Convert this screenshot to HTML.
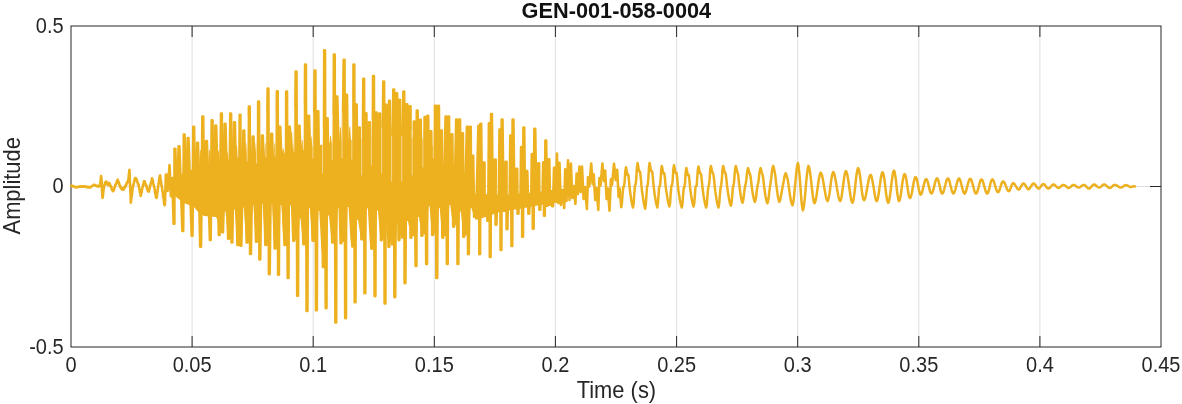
<!DOCTYPE html>
<html>
<head>
<meta charset="utf-8">
<title>GEN-001-058-0004</title>
<style>
html, body { margin: 0; padding: 0; background: #ffffff; }
body { width: 1182px; height: 404px; overflow: hidden; }
svg { display: block; font-family: "Liberation Sans", sans-serif; }
.txt { opacity: 0.999; }
.tick text { font-size: 20px; fill: #262626; }
.lab { font-size: 22px; fill: #262626; }
.ttl { font-size: 22px; font-weight: bold; fill: #111111; }
</style>
</head>
<body>
<svg width="1182" height="404" viewBox="0 0 1182 404">
<rect x="0" y="0" width="1182" height="404" fill="#ffffff"/>
<g stroke="#dfdfdf" stroke-width="1" fill="none"><line x1="192.1" y1="26.0" x2="192.1" y2="347.0"/><line x1="313.2" y1="26.0" x2="313.2" y2="347.0"/><line x1="434.3" y1="26.0" x2="434.3" y2="347.0"/><line x1="555.4" y1="26.0" x2="555.4" y2="347.0"/><line x1="676.6" y1="26.0" x2="676.6" y2="347.0"/><line x1="797.7" y1="26.0" x2="797.7" y2="347.0"/><line x1="918.8" y1="26.0" x2="918.8" y2="347.0"/><line x1="1039.9" y1="26.0" x2="1039.9" y2="347.0"/><line x1="71.0" y1="186.5" x2="1161.0" y2="186.5"/></g>
<rect x="71.0" y="26.0" width="1090.0" height="321.0" fill="none" stroke="#262626" stroke-width="1"/>
<g stroke="#262626" stroke-width="1" fill="none"><line x1="192.1" y1="347.0" x2="192.1" y2="336.0"/><line x1="192.1" y1="26.0" x2="192.1" y2="37.0"/><line x1="313.2" y1="347.0" x2="313.2" y2="336.0"/><line x1="313.2" y1="26.0" x2="313.2" y2="37.0"/><line x1="434.3" y1="347.0" x2="434.3" y2="336.0"/><line x1="434.3" y1="26.0" x2="434.3" y2="37.0"/><line x1="555.4" y1="347.0" x2="555.4" y2="336.0"/><line x1="555.4" y1="26.0" x2="555.4" y2="37.0"/><line x1="676.6" y1="347.0" x2="676.6" y2="336.0"/><line x1="676.6" y1="26.0" x2="676.6" y2="37.0"/><line x1="797.7" y1="347.0" x2="797.7" y2="336.0"/><line x1="797.7" y1="26.0" x2="797.7" y2="37.0"/><line x1="918.8" y1="347.0" x2="918.8" y2="336.0"/><line x1="918.8" y1="26.0" x2="918.8" y2="37.0"/><line x1="1039.9" y1="347.0" x2="1039.9" y2="336.0"/><line x1="1039.9" y1="26.0" x2="1039.9" y2="37.0"/><line x1="71.0" y1="186.5" x2="82.0" y2="186.5"/><line x1="1161.0" y1="186.5" x2="1150.0" y2="186.5"/></g>
<path d="M170.0,186.0 L176.0,179.0 L184.0,172.0 L200.0,167.0 L219.0,162.0 L250.0,157.0 L279.0,153.0 L300.0,149.0 L320.0,145.0 L340.0,141.0 L360.0,139.0 L400.0,137.0 L425.0,139.0 L435.0,148.0 L440.0,170.0 L442.0,193.0 L552.0,196.0 L552.0,201.0 L545.0,204.0 L530.0,207.0 L500.0,212.0 L478.4,219.5 L475.4,219.5 L473.2,213.5 L471.3,207.9 L470.4,207.9 L469.4,235.4 L467.4,235.4 L464.4,235.4 L462.7,229.4 L460.8,211.6 L459.9,211.6 L458.9,225.3 L456.9,225.3 L453.9,225.3 L452.1,219.3 L450.2,205.0 L449.3,205.0 L448.3,236.3 L446.3,236.3 L443.3,236.3 L441.6,230.3 L439.7,207.9 L438.8,207.9 L437.8,233.7 L435.8,233.7 L432.8,233.7 L431.4,227.7 L429.5,206.1 L428.6,206.1 L427.6,234.5 L425.6,234.5 L422.6,234.5 L420.8,228.5 L418.9,216.9 L418.0,216.9 L417.0,236.3 L415.0,236.3 L412.0,236.3 L409.8,230.3 L407.9,221.1 L407.0,221.1 L406.0,238.8 L404.0,238.8 L401.0,238.8 L399.6,232.8 L397.7,223.0 L396.8,223.0 L395.8,245.5 L393.8,245.5 L390.8,245.5 L389.8,239.5 L387.9,219.2 L387.0,219.2 L386.0,238.8 L384.0,238.8 L381.0,238.8 L379.8,232.8 L377.9,210.6 L377.0,210.6 L376.0,247.3 L374.0,247.3 L371.0,247.3 L369.7,241.3 L367.8,208.3 L366.9,208.3 L365.9,238.0 L363.9,238.0 L360.9,238.0 L359.9,232.0 L358.0,219.8 L357.1,219.8 L356.1,245.1 L354.1,245.1 L351.1,245.1 L350.4,239.1 L348.5,207.0 L347.6,207.0 L346.6,242.0 L344.6,242.0 L341.6,242.0 L340.6,236.0 L338.7,208.0 L337.8,208.0 L336.8,241.2 L334.8,241.2 L331.8,241.2 L330.9,235.2 L329.0,215.6 L328.1,215.6 L327.1,253.5 L325.1,253.5 L322.1,253.5 L321.2,247.5 L319.3,211.0 L318.4,211.0 L317.4,239.5 L315.4,239.5 L312.4,239.5 L311.8,233.5 L309.9,208.2 L309.0,208.2 L308.0,242.9 L306.0,242.9 L303.0,242.9 L302.4,236.9 L300.5,218.4 L299.6,218.4 L298.6,239.5 L296.6,239.5 L293.6,239.5 L292.9,233.5 L291.0,205.6 L290.1,205.6 L289.1,243.7 L287.1,243.7 L284.1,243.7 L283.3,237.7 L281.4,204.9 L280.5,204.9 L279.5,247.1 L277.5,247.1 L274.5,247.1 L274.1,241.1 L272.2,204.1 L271.3,204.1 L270.3,243.7 L268.3,243.7 L265.3,243.7 L264.6,237.7 L262.7,204.0 L261.8,204.0 L260.8,240.3 L258.8,240.3 L255.8,240.3 L255.3,234.3 L253.4,205.0 L252.5,205.0 L251.5,241.2 L249.5,241.2 L246.5,241.2 L245.7,235.2 L243.8,207.5 L242.9,207.5 L241.9,243.7 L239.9,243.7 L236.9,243.7 L236.7,237.7 L234.8,209.6 L233.9,209.6 L232.9,237.5 L230.9,237.5 L227.9,237.5 L227.4,231.5 L225.5,211.5 L224.6,211.5 L223.6,233.5 L216.0,217.0 L204.0,216.0 L199.0,213.0 L194.0,207.0 L184.0,203.0 L176.0,197.0 L169.0,187.0Z" fill="#EDB120" stroke="none"/>
<path d="M198.8,169.9 L200.0,150.1 L200.7,150.1 L201.8,169.9ZM208.1,167.5 L209.2,150.1 L209.9,150.1 L211.1,167.5ZM217.0,165.1 L218.2,150.4 L218.8,150.4 L220.0,165.1ZM225.9,163.6 L227.1,152.6 L227.8,152.6 L228.9,163.6ZM235.2,162.1 L236.3,145.0 L237.0,145.0 L238.2,162.1ZM244.5,160.6 L245.7,143.3 L246.3,143.3 L247.5,160.6ZM254.6,159.2 L255.8,142.4 L256.5,142.4 L257.6,159.2ZM263.9,157.9 L265.0,143.3 L265.8,143.3 L266.9,157.9ZM273.3,156.6 L274.4,143.3 L275.2,143.3 L276.3,156.6ZM281.7,155.2 L282.8,148.4 L283.6,148.4 L284.7,155.2ZM290.2,153.6 L291.3,131.4 L292.1,131.4 L293.2,153.6ZM292.7,153.1 L293.8,144.2 L294.6,144.2 L295.7,153.1ZM300.7,151.6 L301.8,139.9 L302.6,139.9 L303.7,151.6ZM309.6,149.8 L310.8,136.4 L311.5,136.4 L312.6,149.8ZM318.9,147.9 L320.0,146.7 L320.8,146.7 L321.9,147.9ZM329.1,145.9 L330.2,135.7 L331.0,135.7 L332.1,145.9ZM338.9,144.0 L340.0,127.2 L340.8,127.2 L341.9,144.0ZM348.2,143.0 L349.3,126.4 L350.1,126.4 L351.2,143.0Z" fill="#EDB120" stroke="none"/>
<path d="M71.4,185.8 L71.9,185.6 L72.3,186.1 L72.8,186.1 L73.2,186.5 L73.7,186.2 L74.1,186.7 L74.6,186.7 L75.0,187.2 L75.5,186.9 L75.9,187.3 L76.4,187.2 L76.8,187.5 L77.3,187.0 L77.7,187.1 L78.2,186.7 L78.6,187.0 L79.1,186.6 L79.5,186.7 L80.0,186.4 L80.4,186.7 L80.9,186.4 L81.3,186.6 L81.8,186.3 L82.2,186.7 L82.7,186.4 L83.1,186.7 L83.6,186.3 L84.0,186.6 L84.5,186.4 L84.9,186.7 L85.4,186.4 L85.8,186.8 L86.3,186.7 L86.7,187.1 L87.2,186.8 L87.6,187.1 L88.1,186.9 L88.5,187.4 L89.0,187.1 L89.4,187.4 L89.9,187.2 L90.3,187.4 L90.8,186.8 L91.2,186.6 L91.7,186.0 L92.1,186.1 L92.6,185.6 L93.0,185.6 L93.5,184.9 L93.9,185.0 L94.4,184.8 L94.8,185.3 L95.3,185.0 L95.7,185.6 L96.2,185.6 L96.6,186.1 L97.1,185.8 L97.5,186.1 L98.0,186.1 L98.4,186.6 L98.9,186.3 L99.3,186.3 L99.8,184.5 L100.2,185.1 L100.7,180.0 L101.1,176.0 L101.6,180.4 L102.0,190.5 L102.5,197.9 L102.9,196.0 L103.4,190.7 L103.8,188.4 L104.3,185.2 L104.7,185.0 L105.2,182.3 L105.6,182.6 L106.1,181.5 L106.5,183.4 L107.0,182.6 L107.4,184.6 L107.9,183.8 L108.3,184.8 L108.8,182.8 L109.2,183.3 L109.7,183.5 L110.1,186.0 L110.6,185.5 L111.0,187.2 L111.5,187.2 L111.9,189.8 L112.4,189.6 L112.8,191.3 L113.3,190.3 L113.7,190.7 L114.2,188.5 L114.6,188.0 L115.1,185.3 L115.5,185.5 L116.0,183.7 L116.4,183.6 L116.9,180.9 L117.3,181.1 L117.8,179.7 L118.2,182.1 L118.7,181.8 L119.1,184.1 L119.6,184.7 L120.0,187.0 L120.5,186.4 L120.9,188.2 L121.4,187.7 L121.8,189.4 L122.3,188.2 L122.7,189.0 L123.2,188.0 L123.6,189.8 L124.1,188.1 L124.5,188.1 L125.0,186.1 L125.4,186.9 L125.9,185.1 L126.3,185.0 L126.8,182.5 L127.2,182.9 L127.7,181.3 L128.1,181.4 L128.6,177.5 L129.0,173.6 L129.5,169.7 L129.9,181.7 L130.4,191.0 L130.8,202.7 L131.3,198.6 L131.7,196.7 L132.2,191.9 L132.6,189.2 L133.1,185.1 L133.5,185.0 L134.0,182.1 L134.4,181.0 L134.9,178.1 L135.3,178.1 L135.8,178.1 L136.2,179.7 L136.7,179.3 L137.1,181.8 L137.6,182.3 L138.0,184.4 L138.5,184.1 L138.9,187.1 L139.4,188.7 L139.8,192.1 L140.3,192.7 L140.7,196.0 L141.2,193.3 L141.6,192.6 L142.1,189.0 L142.5,187.8 L143.0,185.0 L143.4,184.6 L143.9,181.3 L144.3,181.3 L144.8,181.4 L145.2,184.1 L145.7,184.1 L146.1,185.9 L146.6,185.8 L147.0,188.7 L147.5,189.2 L147.9,191.2 L148.4,191.0 L148.8,191.7 L149.3,189.3 L149.7,188.5 L150.2,185.1 L150.6,184.5 L151.1,182.2 L151.5,181.7 L152.0,178.3 L152.4,179.3 L152.9,180.7 L153.3,184.2 L153.8,184.9 L154.2,187.7 L154.7,189.2 L155.1,193.1 L155.6,194.3 L156.0,197.3 L156.5,197.9 L156.9,196.3 L157.4,192.1 L157.8,189.6 L158.3,185.0 L158.7,183.3 L159.2,179.2 L159.6,176.8 L160.1,175.3 L160.5,179.4 L161.0,181.5 L161.4,185.3 L161.9,186.4 L162.3,190.3 L162.8,192.8 L163.2,197.3 L163.7,198.9 L164.1,202.9 L164.6,205.3 L165.0,202.5 L165.5,187.5 L165.9,174.6 L166.4,174.6 L166.8,181.3 L167.3,185.3 L167.7,191.0 L168.2,183.3 L168.6,178.4 L169.1,170.9 L169.5,165.1 L170.0,174.3 L170.4,186.4 L170.9,196.3 L171.3,195.6 L171.8,186.4 L172.2,180.0 L172.3,178.0 L173.6,223.8 L174.4,223.8 L174.5,148.7 L175.3,148.7 L176.5,194.7 L177.3,194.7 L178.6,146.2 L179.4,146.2 L182.4,231.0 L183.2,231.0 L183.8,134.6 L184.6,134.6 L185.7,200.9 L186.5,200.9 L187.7,138.0 L188.5,138.0 L191.7,235.7 L192.5,235.7 L193.3,126.7 L194.1,126.7 L195.2,206.0 L196.0,206.0 L197.2,142.7 L198.0,142.7 L200.2,246.7 L201.0,246.7 L202.4,116.5 L203.2,116.5 L204.2,213.1 L205.1,213.1 L206.1,141.0 L206.9,141.0 L209.9,240.0 L210.7,240.0 L211.7,120.2 L212.5,120.2 L213.5,213.8 L214.3,213.8 L215.4,125.5 L216.2,125.5 L218.8,234.9 L219.6,234.9 L221.0,113.6 L221.8,113.6 L222.2,232.3 L223.0,232.3 L224.7,123.8 L225.5,123.8 L228.1,238.8 L228.9,238.8 L230.3,113.6 L231.1,113.6 L231.5,242.5 L232.3,242.5 L234.1,122.4 L234.9,122.4 L237.4,245.0 L238.2,245.0 L239.6,114.8 L240.4,114.8 L240.5,245.8 L241.3,245.8 L243.4,130.5 L244.2,130.5 L246.7,242.5 L247.5,242.5 L248.9,106.5 L249.7,106.5 L250.1,254.0 L250.9,254.0 L252.7,136.5 L253.5,136.5 L256.0,241.6 L256.8,241.6 L258.2,101.6 L259.0,101.6 L259.4,259.4 L260.2,259.4 L262.0,135.5 L262.8,135.5 L265.4,245.0 L266.2,245.0 L267.6,88.5 L268.4,88.5 L268.9,274.1 L269.7,274.1 L271.3,133.8 L272.1,133.8 L274.7,248.4 L275.5,248.4 L276.9,91.4 L277.7,91.4 L278.1,274.8 L278.9,274.8 L279.4,126.7 L280.2,126.7 L284.5,245.0 L285.3,245.0 L286.2,91.6 L287.0,91.6 L287.7,278.0 L288.5,278.0 L289.0,126.7 L289.8,126.7 L293.3,240.8 L294.1,240.8 L295.7,71.5 L296.5,71.5 L297.2,295.8 L298.0,295.8 L298.7,125.8 L299.5,125.8 L303.4,244.2 L304.2,244.2 L305.1,64.6 L305.9,64.6 L306.6,311.0 L307.4,311.0 L308.2,115.7 L309.0,115.7 L312.6,240.8 L313.4,240.8 L314.6,70.5 L315.4,70.5 L316.0,310.2 L316.8,310.2 L317.5,111.4 L318.3,111.4 L319.3,208.8 L320.1,208.8 L321.1,147.7 L321.9,147.7 L322.9,267.0 L323.7,267.0 L324.2,50.4 L325.0,50.4 L325.7,308.1 L326.5,308.1 L326.8,118.2 L327.6,118.2 L328.6,211.8 L329.4,211.8 L330.4,145.8 L331.2,145.8 L332.2,242.5 L333.0,242.5 L333.9,54.6 L334.7,54.6 L335.4,322.5 L336.2,322.5 L336.5,96.5 L337.3,96.5 L340.6,243.3 L341.4,243.3 L343.7,59.7 L344.5,59.7 L345.2,318.1 L346.0,318.1 L346.2,94.7 L347.0,94.7 L348.2,205.2 L349.0,205.2 L350.3,142.9 L351.1,142.9 L352.3,246.4 L353.1,246.4 L353.5,64.6 L354.3,64.6 L354.7,302.2 L355.5,302.2 L355.9,104.5 L356.7,104.5 L357.4,217.9 L358.2,217.9 L358.9,127.5 L359.7,127.5 L361.4,239.3 L362.2,239.3 L363.3,78.7 L364.1,78.7 L364.5,293.3 L365.3,293.3 L365.6,113.2 L366.4,113.2 L367.4,205.2 L368.1,205.2 L369.1,122.4 L369.9,122.4 L371.3,248.6 L372.1,248.6 L373.1,76.1 L373.9,76.1 L374.6,296.1 L375.4,296.1 L375.8,112.6 L376.6,112.6 L377.5,208.5 L378.3,208.5 L379.2,113.5 L380.0,113.5 L380.9,240.1 L381.7,240.1 L383.3,81.5 L384.1,81.5 L384.6,303.4 L385.4,303.4 L385.6,104.7 L386.4,104.7 L388.5,246.8 L389.3,246.8 L389.0,100.8 L389.8,100.8 L391.1,218.1 L391.9,218.1 L393.3,89.5 L394.1,89.5 L394.4,297.1 L395.2,297.1 L396.3,93.4 L397.1,93.4 L398.6,240.1 L399.4,240.1 L399.3,99.7 L400.1,99.7 L401.4,219.1 L402.1,219.1 L403.4,91.6 L404.2,91.6 L404.6,283.1 L405.4,283.1 L406.5,104.2 L407.3,104.2 L408.1,217.7 L408.9,217.7 L409.7,106.4 L410.5,106.4 L410.5,237.6 L411.3,237.6 L413.9,121.6 L414.7,121.6 L415.6,266.0 L416.4,266.0 L416.8,110.6 L417.6,110.6 L418.4,212.9 L419.2,212.9 L420.0,119.9 L420.8,119.9 L421.5,235.8 L422.3,235.8 L424.6,117.0 L425.4,117.0 L426.2,264.0 L427.0,264.0 L427.4,115.7 L428.2,115.7 L429.0,203.2 L429.8,203.2 L430.5,131.4 L431.3,131.4 L432.2,235.0 L433.0,235.0 L435.0,105.8 L435.8,105.8 L436.4,278.0 L437.2,278.0 L438.1,105.8 L438.9,105.8 L439.6,204.7 L440.3,204.7 L441.0,130.5 L441.8,130.5 L442.3,237.6 L443.1,237.6 L445.6,116.5 L446.4,116.5 L446.9,264.0 L447.7,264.0 L448.2,116.5 L449.0,116.5 L449.9,202.6 L450.6,202.6 L451.5,134.2 L452.3,134.2 L453.2,226.6 L454.0,226.6 L456.2,119.5 L457.0,119.5 L457.5,264.0 L458.3,264.0 L459.2,119.5 L460.0,119.5 L460.7,208.8 L461.4,208.8 L462.1,133.4 L462.9,133.4 L463.3,236.7 L464.1,236.7 L466.9,126.7 L467.7,126.7 L468.0,254.1 L468.8,254.1 L469.9,126.7 L470.7,126.7 L471.2,204.7 L471.9,204.7 L472.4,155.7 L473.2,155.7 L474.1,216.8 L474.9,216.8 L476.6,200.0 L478.4,125.8 L479.2,125.8 L479.3,254.1 L480.1,254.1 L480.4,123.8 L481.2,123.8 L482.0,210.8 L482.8,210.8 L483.7,162.5 L484.5,162.5 L484.6,212.8 L485.4,212.8 L485.9,198.2 L486.7,198.2 L487.4,220.6 L488.2,220.6 L488.9,123.2 L489.7,123.2 L489.8,257.0 L490.6,257.0 L491.1,114.0 L491.9,114.0 L492.8,212.8 L493.6,212.8 L494.9,159.6 L495.7,159.6 L495.6,224.8 L496.4,224.8 L497.2,197.0 L498.7,210.0 L499.5,129.5 L500.3,129.5 L500.6,249.9 L501.4,249.9 L501.7,119.5 L502.5,119.5 L503.6,210.8 L504.4,210.8 L505.7,161.7 L506.5,161.7 L506.6,229.1 L507.4,229.1 L508.0,196.0 L509.6,208.0 L510.3,135.5 L511.1,135.5 L511.5,246.0 L512.3,246.0 L512.6,119.5 L513.4,119.5 L514.5,206.8 L515.3,206.8 L516.4,168.8 L517.2,168.8 L517.6,213.8 L518.4,213.8 L519.0,195.0 L520.4,206.0 L521.1,147.0 L521.9,147.0 L522.2,236.7 L523.0,236.7 L523.4,127.5 L524.2,127.5 L525.1,204.8 L525.9,204.8 L526.5,171.0 L527.3,171.0 L528.4,213.8 L529.2,213.8 L530.0,194.0 L531.2,204.0 L531.8,154.0 L532.6,154.0 L532.8,228.8 L533.6,228.8 L534.4,128.7 L535.2,128.7 L536.4,202.8 L537.2,202.8 L538.3,163.2 L539.1,163.2 L539.4,209.8 L540.2,209.8 L541.1,193.0 L542.4,203.0 L543.2,162.2 L544.0,162.2 L544.0,215.8 L544.8,215.8 L545.4,140.5 L546.2,140.5 L546.9,205.8 L547.7,205.8 L548.5,159.2 L549.3,159.2 L550.0,204.8 L550.8,204.8 L551.2,191.2 L552.0,191.2 L552.2,206.3 L553.0,206.3 L554.0,167.8 L554.8,167.8 L555.1,201.8 L555.9,201.8 L556.9,153.5 L558.2,203.0 L559.5,162.8 L560.8,205.0 L562.3,190.0 L564.2,208.0 L565.2,169.2 L566.5,201.0 L568.0,160.3 L569.5,200.0 L570.9,163.5 L572.3,198.0 L573.7,186.0 L575.4,204.0 L576.6,173.6 L577.9,194.0 L579.4,166.6 L580.7,192.0 L582.0,166.6 L583.6,199.0 L585.0,187.0 L586.9,209.0 L588.0,177.4 L589.3,186.5 L591.2,163.5 L592.6,184.0 L593.7,174.3 L595.2,200.0 L596.5,188.0 L598.3,210.0 L599.4,178.0 L600.6,185.5 L602.4,163.5 L603.9,181.0 L605.2,170.5 L606.6,199.0 L607.8,188.5 L609.5,210.7 L610.9,179.3 L612.0,185.0 L614.0,163.7 L615.7,180.0 L617.2,169.8 L618.6,197.0 L619.7,188.5 L621.2,207.0" fill="none" stroke="#EDB120" stroke-width="2.6" stroke-linejoin="round" stroke-linecap="round"/>
<path d="M621.2,207.0 L621.2,207.0 L621.9,203.2 L622.6,194.0 L623.3,186.8 L623.9,186.9 L624.6,181.9 L625.3,171.1 L626.0,167.2 L626.6,170.4 L627.3,174.8 L627.9,174.1 L628.5,175.8 L629.2,183.1 L629.8,189.6 L630.5,194.4 L631.1,198.7 L631.7,202.4 L632.4,205.4 L633.0,207.5 L633.7,203.3 L634.3,193.4 L635.0,185.4 L635.6,184.6 L636.3,178.8 L636.9,167.4 L637.6,163.0 L638.2,166.0 L638.9,171.0 L639.5,171.1 L640.1,172.0 L640.8,177.6 L641.4,185.2 L642.0,190.8 L642.7,195.6 L643.3,199.9 L643.9,203.6 L644.6,206.6 L645.2,208.7 L645.8,204.4 L646.5,194.3 L647.1,186.1 L647.7,185.1 L648.3,179.1 L649.0,167.5 L649.6,163.0 L650.2,166.0 L650.9,170.8 L651.5,170.8 L652.2,171.6 L652.8,177.1 L653.5,184.6 L654.1,190.1 L654.7,194.7 L655.4,198.9 L656.0,202.5 L656.7,205.4 L657.3,207.5 L657.9,203.6 L658.6,194.1 L659.2,186.6 L659.9,186.3 L660.5,181.0 L661.2,169.9 L661.8,165.9 L662.4,168.6 L663.1,173.2 L663.7,172.9 L664.3,173.3 L665.0,178.5 L665.6,185.6 L666.2,190.6 L666.9,194.9 L667.5,198.8 L668.1,202.0 L668.8,204.7 L669.4,206.5 L670.1,202.7 L670.7,193.3 L671.4,185.8 L672.0,185.4 L672.7,180.1 L673.3,169.1 L674.0,165.2 L674.6,168.0 L675.3,172.6 L676.0,172.4 L676.6,173.0 L677.2,178.4 L677.9,185.7 L678.5,191.0 L679.2,195.5 L679.8,199.5 L680.5,203.0 L681.1,205.6 L681.8,207.5 L682.5,204.0 L683.1,194.8 L683.8,187.6 L684.4,187.5 L685.1,182.4 L685.7,171.8 L686.4,168.1 L687.0,170.6 L687.6,174.9 L688.2,174.5 L688.8,175.0 L689.4,179.9 L690.0,186.7 L690.6,191.6 L691.2,195.7 L691.8,199.3 L692.4,202.5 L693.0,204.9 L693.6,206.5 L694.2,203.6 L694.8,197.1 L695.4,187.9 L696.0,186.1 L696.7,185.4 L697.3,177.0 L697.9,169.4 L698.5,166.4 L699.1,168.9 L699.8,173.1 L700.4,173.3 L701.1,174.4 L701.7,179.6 L702.4,186.4 L703.0,191.6 L703.6,196.0 L704.3,199.9 L704.9,203.3 L705.6,205.8 L706.2,207.5 L706.9,204.0 L707.5,195.3 L708.2,187.6 L708.9,185.4 L709.6,179.4 L710.2,169.5 L710.9,165.9 L711.5,168.2 L712.2,172.2 L712.8,172.9 L713.4,174.4 L714.1,179.5 L714.7,186.2 L715.3,191.4 L716.0,195.9 L716.6,199.9 L717.2,203.3 L717.9,205.9 L718.5,207.5 L719.2,204.1 L719.8,195.8 L720.5,188.1 L721.2,185.0 L721.9,178.8 L722.5,169.4 L723.2,165.9 L723.8,168.0 L724.5,171.7 L725.1,172.6 L725.8,174.3 L726.4,179.2 L727.0,185.4 L727.7,190.4 L728.3,194.8 L729.0,198.6 L729.6,201.9 L730.3,204.3 L730.9,205.8 L731.5,203.2 L732.1,197.4 L732.7,189.3 L733.3,185.7 L734.0,182.7 L734.6,175.1 L735.2,168.6 L735.8,165.9 L736.4,168.0 L737.0,171.3 L737.6,172.4 L738.2,175.1 L738.8,181.0 L739.5,186.6 L740.1,191.2 L740.7,195.3 L741.3,198.8 L741.9,201.3 L742.5,202.8 L743.1,200.9 L743.7,197.1 L744.4,190.6 L745.0,186.6 L745.6,184.0 L746.2,180.9 L746.9,174.3 L747.5,170.0 L748.1,168.1 L748.7,169.9 L749.3,172.8 L750.0,174.0 L750.6,176.7 L751.2,182.0 L751.8,187.1 L752.4,191.4 L753.0,195.1 L753.7,198.3 L754.3,200.6 L754.9,201.9 L755.5,200.2 L756.2,196.5 L756.8,190.6 L757.4,186.5 L758.1,183.3 L758.7,179.9 L759.3,173.8 L760.0,169.9 L760.6,168.1 L761.2,169.8 L761.8,172.6 L762.5,174.4 L763.1,177.5 L763.7,182.8 L764.3,187.9 L764.9,192.4 L765.5,196.3 L766.2,199.6 L766.8,202.0 L767.4,203.3 L768.0,201.4 L768.7,197.6 L769.3,191.7 L770.0,186.7 L770.6,182.3 L771.3,177.9 L771.9,171.8 L772.6,167.8 L773.2,165.9 L773.8,167.7 L774.4,170.6 L775.0,173.4 L775.6,177.9 L776.2,183.8 L776.9,189.0 L777.5,193.7 L778.1,197.6 L778.7,200.4 L779.3,201.9 L779.9,200.7 L780.6,198.4 L781.2,194.6 L781.9,190.7 L782.5,187.5 L783.1,184.3 L783.8,180.8 L784.4,176.8 L785.1,174.4 L785.7,173.2 L786.3,174.5 L786.9,176.7 L787.6,179.2 L788.2,182.5 L788.8,186.9 L789.4,191.3 L790.0,195.4 L790.6,199.1 L791.3,202.1 L791.9,204.2 L792.5,205.3 L793.2,203.0 L793.9,198.1 L794.5,191.3 L795.2,184.1 L795.9,177.0 L796.5,170.3 L797.2,165.3 L797.9,163.0 L798.5,165.6 L799.1,170.8 L799.8,178.1 L800.4,186.7 L801.0,195.2 L801.6,202.6 L802.3,207.8 L802.9,210.4 L803.5,208.4 L804.1,204.4 L804.8,198.6 L805.4,191.8 L806.0,184.5 L806.6,177.7 L807.3,171.9 L807.9,167.9 L808.5,165.9 L809.1,167.3 L809.7,170.1 L810.3,174.2 L810.9,179.2 L811.5,184.6 L812.1,190.0 L812.7,195.0 L813.3,199.1 L813.9,201.9 L814.5,203.3 L815.1,202.2 L815.7,199.9 L816.4,196.5 L817.0,192.4 L817.6,188.0 L818.2,183.5 L818.8,179.4 L819.5,176.0 L820.1,173.7 L820.7,172.6 L821.3,173.5 L822.0,175.3 L822.6,177.9 L823.2,181.2 L823.8,184.9 L824.5,188.8 L825.1,192.5 L825.7,195.8 L826.3,198.4 L827.0,200.2 L827.6,201.1 L828.2,199.9 L828.8,197.3 L829.5,193.5 L830.1,189.0 L830.7,184.1 L831.3,179.6 L832.0,175.8 L832.6,173.2 L833.2,172.0 L833.8,172.8 L834.5,174.7 L835.1,177.4 L835.7,180.8 L836.4,184.6 L837.0,188.5 L837.7,192.3 L838.3,195.7 L838.9,198.4 L839.6,200.3 L840.2,201.1 L840.8,199.9 L841.5,197.2 L842.1,193.3 L842.7,188.6 L843.4,183.5 L844.0,178.8 L844.6,174.9 L845.3,172.2 L845.9,171.0 L846.5,171.9 L847.1,173.8 L847.7,176.8 L848.3,180.5 L848.9,184.7 L849.5,189.1 L850.1,193.3 L850.7,197.0 L851.3,200.0 L851.9,201.9 L852.5,202.8 L853.1,201.5 L853.7,198.4 L854.4,193.9 L855.0,188.4 L855.6,182.5 L856.2,177.0 L856.9,172.5 L857.5,169.4 L858.1,168.1 L858.8,169.3 L859.4,172.1 L860.1,176.3 L860.7,181.4 L861.4,186.9 L862.0,192.0 L862.7,196.2 L863.3,199.0 L864.0,200.2 L864.6,199.6 L865.2,198.0 L865.8,195.7 L866.4,192.7 L867.0,189.3 L867.6,185.7 L868.2,182.3 L868.8,179.3 L869.4,177.0 L870.0,175.4 L870.6,174.8 L871.2,175.5 L871.8,177.5 L872.4,180.4 L873.0,184.0 L873.7,187.9 L874.3,191.9 L874.9,195.5 L875.5,198.4 L876.1,200.4 L876.7,201.1 L877.4,200.1 L878.0,197.6 L878.7,193.8 L879.3,189.2 L880.0,184.2 L880.6,179.6 L881.3,175.8 L881.9,173.3 L882.6,172.3 L883.2,173.3 L883.8,176.0 L884.5,180.0 L885.1,184.9 L885.7,190.2 L886.3,195.1 L887.0,199.1 L887.6,201.8 L888.2,202.8 L888.8,201.8 L889.5,199.0 L890.1,194.7 L890.8,189.5 L891.4,183.9 L892.1,178.7 L892.7,174.4 L893.4,171.6 L894.0,170.6 L894.6,171.8 L895.2,175.1 L895.9,180.0 L896.5,185.8 L897.1,191.7 L897.8,196.6 L898.4,199.9 L899.0,201.1 L899.6,200.3 L900.2,197.9 L900.9,194.3 L901.5,189.9 L902.1,185.2 L902.7,180.8 L903.4,177.2 L904.0,174.8 L904.6,174.0 L905.3,174.9 L906.0,177.5 L906.6,181.4 L907.3,186.0 L908.0,190.6 L908.6,194.5 L909.3,197.1 L910.0,198.0 L910.6,197.4 L911.2,195.5 L911.9,192.8 L912.5,189.3 L913.1,185.7 L913.7,182.2 L914.4,179.5 L915.0,177.6 L915.6,177.0 L916.2,177.7 L916.9,179.6 L917.5,182.4 L918.2,185.8 L918.8,189.2 L919.4,192.0 L920.1,193.9 L920.7,194.6 L921.4,194.0 L922.1,192.3 L922.7,189.8 L923.4,186.8 L924.1,183.9 L924.8,181.4 L925.4,179.7 L926.1,179.1 L926.8,179.6 L927.5,181.2 L928.1,183.5 L928.8,186.3 L929.5,189.1 L930.1,191.4 L930.8,193.0 L931.5,193.5 L932.1,193.0 L932.7,191.7 L933.4,189.7 L934.0,187.2 L934.6,184.6 L935.2,182.1 L935.9,180.1 L936.5,178.8 L937.1,178.3 L937.7,178.9 L938.4,180.5 L939.0,183.0 L939.7,185.9 L940.3,188.9 L940.9,191.4 L941.6,193.0 L942.2,193.6 L942.8,193.1 L943.5,191.8 L944.1,189.8 L944.7,187.3 L945.4,184.7 L946.0,182.2 L946.6,180.2 L947.3,178.9 L947.9,178.4 L948.5,178.9 L949.1,180.2 L949.7,182.2 L950.3,184.7 L951.0,187.3 L951.6,189.8 L952.2,191.8 L952.8,193.1 L953.4,193.6 L954.0,193.1 L954.6,191.8 L955.3,189.8 L955.9,187.3 L956.5,184.7 L957.1,182.2 L957.8,180.2 L958.4,178.9 L959.0,178.4 L959.6,178.9 L960.2,180.2 L960.8,182.2 L961.4,184.7 L962.1,187.3 L962.7,189.8 L963.3,191.8 L963.9,193.1 L964.5,193.6 L965.1,193.2 L965.8,191.9 L966.4,189.9 L967.0,187.5 L967.7,184.9 L968.3,182.5 L968.9,180.5 L969.6,179.2 L970.2,178.8 L970.9,179.2 L971.5,180.5 L972.2,182.5 L972.8,184.9 L973.5,187.5 L974.1,189.9 L974.8,191.9 L975.4,193.2 L976.1,193.6 L976.8,193.1 L977.4,191.5 L978.1,189.2 L978.8,186.5 L979.4,183.8 L980.1,181.5 L980.7,179.9 L981.4,179.4 L982.1,179.8 L982.7,181.1 L983.4,182.9 L984.0,185.3 L984.7,187.7 L985.3,190.0 L986.0,191.9 L986.6,193.2 L987.3,193.6 L987.9,193.1 L988.5,191.5 L989.2,189.2 L989.8,186.5 L990.4,183.8 L991.0,181.5 L991.7,179.9 L992.3,179.4 L992.9,179.8 L993.6,180.9 L994.2,182.6 L994.8,184.7 L995.5,186.9 L996.1,189.0 L996.7,190.7 L997.4,191.8 L998.0,192.2 L998.6,191.8 L999.3,190.6 L999.9,188.9 L1000.5,186.8 L1001.2,184.7 L1001.8,183.0 L1002.5,181.8 L1003.1,181.4 L1003.7,181.7 L1004.4,182.5 L1005.0,183.8 L1005.6,185.4 L1006.3,187.2 L1006.9,188.8 L1007.5,190.1 L1008.2,190.9 L1008.8,191.2 L1009.4,190.8 L1010.1,189.7 L1010.7,188.1 L1011.3,186.2 L1011.9,184.6 L1012.6,183.5 L1013.2,183.1 L1013.8,183.3 L1014.4,183.9 L1015.0,184.7 L1015.6,185.8 L1016.3,186.9 L1016.9,188.0 L1017.5,188.8 L1018.1,189.4 L1018.7,189.6 L1019.4,189.3 L1020.0,188.5 L1020.7,187.2 L1021.4,185.9 L1022.1,184.6 L1022.7,183.8 L1023.4,183.5 L1024.0,183.7 L1024.7,184.3 L1025.3,185.3 L1026.0,186.3 L1026.6,187.4 L1027.2,188.4 L1027.9,189.0 L1028.5,189.2 L1029.1,189.0 L1029.8,188.4 L1030.4,187.4 L1031.0,186.3 L1031.7,185.3 L1032.3,184.3 L1033.0,183.7 L1033.6,183.5 L1034.2,183.7 L1034.8,184.2 L1035.5,185.0 L1036.1,186.0 L1036.7,187.0 L1037.3,187.8 L1038.0,188.3 L1038.6,188.5 L1039.3,188.3 L1039.9,187.7 L1040.6,186.8 L1041.3,185.8 L1042.0,184.9 L1042.6,184.3 L1043.3,184.1 L1043.9,184.3 L1044.6,184.7 L1045.2,185.5 L1045.8,186.3 L1046.5,187.1 L1047.1,187.9 L1047.8,188.3 L1048.4,188.5 L1049.0,188.3 L1049.7,187.9 L1050.3,187.3 L1051.0,186.5 L1051.6,185.7 L1052.2,185.1 L1052.9,184.7 L1053.5,184.5 L1054.1,184.6 L1054.8,185.0 L1055.4,185.5 L1056.0,186.2 L1056.6,186.9 L1057.2,187.4 L1057.9,187.8 L1058.5,187.9 L1059.1,187.8 L1059.7,187.5 L1060.3,187.0 L1061.0,186.4 L1061.6,185.8 L1062.2,185.3 L1062.8,185.0 L1063.4,184.9 L1064.1,185.0 L1064.7,185.3 L1065.4,185.8 L1066.1,186.4 L1066.7,187.0 L1067.4,187.5 L1068.0,187.8 L1068.7,187.9 L1069.3,187.8 L1069.9,187.5 L1070.5,187.0 L1071.2,186.4 L1071.8,185.8 L1072.4,185.3 L1073.0,185.0 L1073.6,184.9 L1074.2,185.0 L1074.9,185.3 L1075.5,185.7 L1076.2,186.2 L1076.8,186.7 L1077.5,187.1 L1078.1,187.4 L1078.8,187.5 L1079.4,187.4 L1080.0,187.1 L1080.6,186.7 L1081.2,186.2 L1081.9,185.7 L1082.5,185.3 L1083.1,185.0 L1083.7,184.9 L1084.4,185.0 L1085.0,185.4 L1085.7,186.0 L1086.3,186.7 L1087.0,187.4 L1087.7,188.0 L1088.3,188.4 L1089.0,188.5 L1089.6,188.3 L1090.3,187.9 L1090.9,187.3 L1091.5,186.5 L1092.2,185.7 L1092.8,185.1 L1093.5,184.7 L1094.1,184.5 L1094.7,184.6 L1095.3,184.9 L1096.0,185.4 L1096.6,186.0 L1097.2,186.6 L1097.8,187.1 L1098.5,187.4 L1099.1,187.5 L1099.7,187.4 L1100.4,187.1 L1101.0,186.6 L1101.7,186.0 L1102.3,185.4 L1102.9,184.9 L1103.6,184.6 L1104.2,184.5 L1104.8,184.6 L1105.4,184.9 L1106.0,185.3 L1106.6,185.9 L1107.3,186.5 L1107.9,187.1 L1108.5,187.5 L1109.1,187.8 L1109.7,187.9 L1110.3,187.8 L1111.0,187.5 L1111.6,187.0 L1112.2,186.4 L1112.9,185.8 L1113.5,185.3 L1114.2,185.0 L1114.8,184.9 L1115.4,185.0 L1116.0,185.1 L1116.6,185.4 L1117.2,185.8 L1117.8,186.2 L1118.5,186.6 L1119.1,187.0 L1119.7,187.3 L1120.3,187.4 L1120.9,187.5 L1121.5,187.4 L1122.2,187.1 L1122.8,186.8 L1123.4,186.3 L1124.0,185.8 L1124.7,185.5 L1125.3,185.2 L1125.9,185.1 L1126.5,185.2 L1127.2,185.4 L1127.8,185.7 L1128.5,186.1 L1129.1,186.5 L1129.7,186.8 L1130.4,187.0 L1131.0,187.1 L1133.0,186.3 L1135.1,186.5" fill="none" stroke="#EDB120" stroke-width="2.5" stroke-linejoin="round" stroke-linecap="round"/>
<path d="M237.9,112.0 L237.9,157.0M247.2,116.0 L247.2,161.0M256.5,118.0 L256.5,163.0M265.9,112.0 L265.9,157.0M275.2,111.0 L275.2,156.0M284.5,108.0 L284.5,153.0M294.0,107.0 L294.0,152.0M303.4,105.0 L303.4,150.0M312.9,113.0 L312.9,158.0M322.5,128.0 L322.5,173.0M332.2,115.0 L332.2,160.0M342.0,113.0 L342.0,158.0M351.8,114.0 L351.8,159.0M361.6,130.0 L361.6,175.0M371.4,120.0 L371.4,165.0M381.6,128.0 L381.6,173.0M391.6,136.0 L391.6,181.0M401.7,136.0 L401.7,181.0M412.2,130.0 L412.2,175.0M422.9,122.0 L422.9,167.0M433.3,113.0 L433.3,158.0" fill="none" stroke="#ffffff" stroke-opacity="0.6" stroke-width="0.8" stroke-linecap="round"/>
<g class="txt"><g class="tick"><text transform="translate(71.0,371.6) scale(1,1.06)" text-anchor="middle">0</text><text transform="translate(192.1,371.6) scale(1,1.06)" text-anchor="middle">0.05</text><text transform="translate(313.2,371.6) scale(1,1.06)" text-anchor="middle">0.1</text><text transform="translate(434.3,371.6) scale(1,1.06)" text-anchor="middle">0.15</text><text transform="translate(555.4,371.6) scale(1,1.06)" text-anchor="middle">0.2</text><text transform="translate(676.6,371.6) scale(1,1.06)" text-anchor="middle">0.25</text><text transform="translate(797.7,371.6) scale(1,1.06)" text-anchor="middle">0.3</text><text transform="translate(918.8,371.6) scale(1,1.06)" text-anchor="middle">0.35</text><text transform="translate(1039.9,371.6) scale(1,1.06)" text-anchor="middle">0.4</text><text transform="translate(1161.0,371.6) scale(1,1.06)" text-anchor="middle">0.45</text><text transform="translate(63.6,32.9) scale(1,1.06)" text-anchor="end">0.5</text><text transform="translate(63.6,193.4) scale(1,1.06)" text-anchor="end">0</text><text transform="translate(63.6,353.9) scale(1,1.06)" text-anchor="end">-0.5</text></g>
<text class="lab" transform="translate(616.4,397.8) scale(0.995,1.07)" text-anchor="middle">Time (s)</text>
<text class="lab" transform="translate(19.7,185.8) rotate(-90) scale(0.995,1.07)" text-anchor="middle">Amplitude</text>
<text class="ttl" transform="translate(616.4,17.9) scale(0.9875,1.035)" text-anchor="middle">GEN-001-058-0004</text></g>
</svg>
</body>
</html>
